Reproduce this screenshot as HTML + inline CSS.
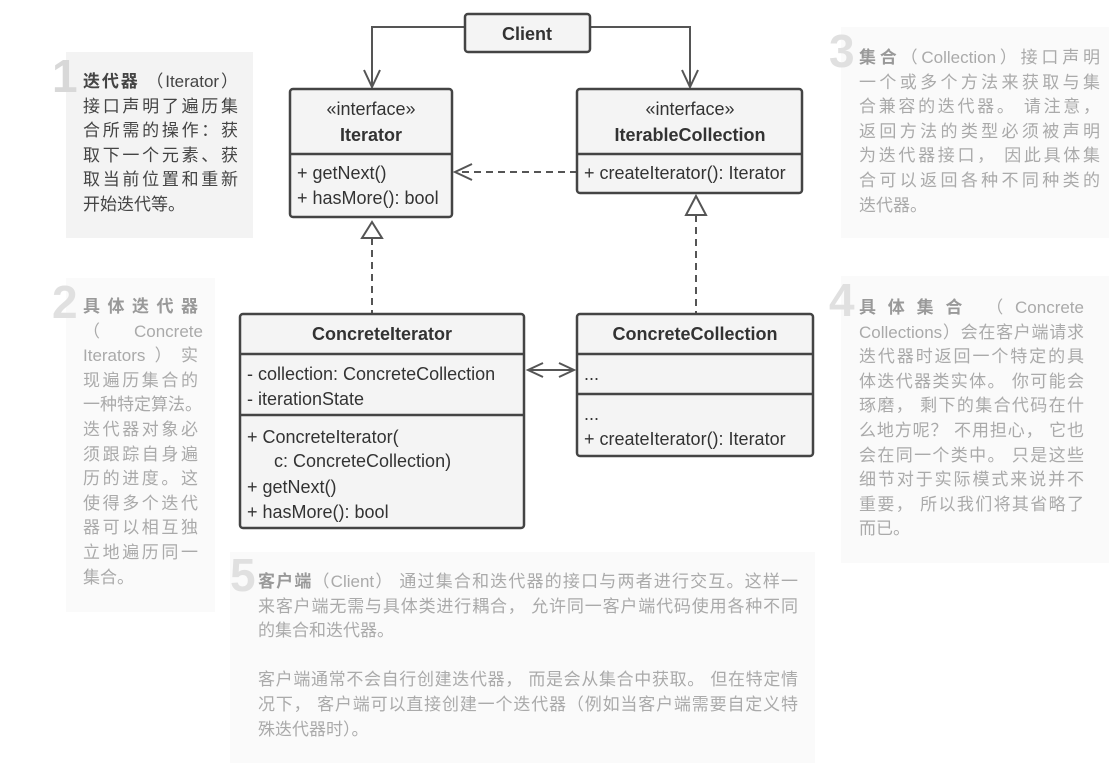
<!DOCTYPE html>
<html><head><meta charset="utf-8"><style>
body{margin:0;width:1109px;height:776px;background:#fff;position:relative;overflow:hidden;font-family:"Liberation Sans","Noto Sans CJK SC",sans-serif}
.bg{position:absolute}
.note{position:absolute;font-size:17px;line-height:24.6px;color:#aaa}
.note div{text-align:justify;text-align-last:justify;white-space:nowrap}
.note div.l{text-align-last:left}
.note b{color:#999}
.n1{color:#444}.n1 b{color:#444}
.num{position:absolute;font-size:46px;font-weight:bold;color:#e0e0e0;line-height:46px}
</style></head><body>
<div class="bg" style="left:66px;top:52px;width:187px;height:186px;background:#f3f3f3"></div>
<div class="bg" style="left:66px;top:278px;width:149px;height:334px;background:#fafafa"></div>
<div class="bg" style="left:841px;top:27px;width:268px;height:211px;background:#fafafa"></div>
<div class="bg" style="left:841px;top:276px;width:268px;height:287px;background:#fafafa"></div>
<div class="bg" style="left:230px;top:552px;width:585px;height:211px;background:#fafafa"></div>
<div class="num" style="left:52px;top:53px;color:#d8d8d8">1</div>
<div class="num" style="left:52px;top:279px">2</div>
<div class="num" style="left:829px;top:28px">3</div>
<div class="num" style="left:829px;top:277px">4</div>
<div class="num" style="left:230px;top:552px">5</div>

<div class="note n1" style="left:83px;top:70px;width:155px">
<div><b>迭代器</b> （Iterator）</div><div>接口声明了遍历集</div><div>合所需的操作：获</div><div>取下一个元素、获</div><div>取当前位置和重新</div><div class="l">开始迭代等。</div></div>

<div class="note" style="left:83px;top:295px;width:115px">
<div><b>具 体 迭 代 器</b></div><div>（　　Concrete</div><div>Iterators）实</div><div>现遍历集合的</div><div>一种特定算法。</div><div>迭代器对象必</div><div>须跟踪自身遍</div><div>历的进度。这</div><div>使得多个迭代</div><div>器可以相互独</div><div>立地遍历同一</div><div class="l">集合。</div></div>

<div class="note" style="left:859px;top:46px;width:241px">
<div><b>集合</b>（Collection）接口声明</div><div>一个或多个方法来获取与集</div><div>合兼容的迭代器。 请注意，</div><div>返回方法的类型必须被声明</div><div>为迭代器接口， 因此具体集</div><div>合可以返回各种不同种类的</div><div class="l">迭代器。</div></div>

<div class="note" style="left:859px;top:296px;width:225px">
<div><b>具 体 集 合</b> 　（ Concrete</div><div>Collections）会在客户端请求</div><div>迭代器时返回一个特定的具</div><div>体迭代器类实体。 你可能会</div><div>琢磨， 剩下的集合代码在什</div><div>么地方呢？ 不用担心， 它也</div><div>会在同一个类中。 只是这些</div><div>细节对于实际模式来说并不</div><div>重要， 所以我们将其省略了</div><div class="l">而已。</div></div>

<div class="note" style="left:258px;top:570px;width:540px">
<div><b>客户端</b>（Client） 通过集合和迭代器的接口与两者进行交互。这样一</div><div>来客户端无需与具体类进行耦合， 允许同一客户端代码使用各种不同</div><div class="l">的集合和迭代器。</div><div class="l">&nbsp;</div>
<div>客户端通常不会自行创建迭代器， 而是会从集合中获取。 但在特定情</div><div>况下， 客户端可以直接创建一个迭代器（例如当客户端需要自定义特</div><div class="l">殊迭代器时）。</div></div>

<svg width="1109" height="776" style="position:absolute;left:0;top:0" font-family="Liberation Sans, sans-serif" font-size="18" fill="#333">
<g stroke="#555" stroke-width="2" fill="none">
<polyline points="465,27 372,27 372,87"/><polyline points="364,70 372,87 380,70"/>
<polyline points="590,27 690,27 690,87"/><polyline points="682,70 690,87 698,70"/>
<line x1="577" y1="172" x2="456" y2="172" stroke-dasharray="7,5"/><polyline points="472,164 455,172 472,180"/>
<line x1="372" y1="238" x2="372" y2="314" stroke-dasharray="7,5"/><polygon points="372,222 362,238 382,238"/>
<line x1="696" y1="215" x2="696" y2="314" stroke-dasharray="7,5"/><polygon points="696,196 686,215 706,215"/>
<line x1="528" y1="370" x2="574" y2="370"/><polyline points="543,363 528,370 543,377"/><polyline points="559,363 574,370 559,377"/>
</g>
<g stroke="#444" stroke-width="2.5" fill="#f4f4f4">
<rect x="465" y="14" width="125" height="38" rx="3"/>
<rect x="290" y="89" width="162" height="128" rx="3"/>
<rect x="577" y="89" width="225" height="104" rx="3"/>
<rect x="240" y="314" width="284" height="214" rx="3"/>
<rect x="577" y="314" width="236" height="142" rx="3"/>
</g>
<g stroke="#444" stroke-width="2.5">
<line x1="290" y1="154" x2="452" y2="154"/>
<line x1="577" y1="154" x2="802" y2="154"/>
<line x1="240" y1="354" x2="524" y2="354"/>
<line x1="240" y1="415" x2="524" y2="415"/>
<line x1="577" y1="354" x2="813" y2="354"/>
<line x1="577" y1="394" x2="813" y2="394"/>
</g>
<g text-anchor="middle">
<text x="527" y="40" font-weight="bold">Client</text>
<text x="371" y="115">«interface»</text>
<text x="371" y="141" font-weight="bold">Iterator</text>
<text x="690" y="115">«interface»</text>
<text x="690" y="141" font-weight="bold">IterableCollection</text>
<text x="382" y="340" font-weight="bold">ConcreteIterator</text>
<text x="695" y="340" font-weight="bold">ConcreteCollection</text>
</g>
<text x="297" y="179">+ getNext()</text>
<text x="297" y="204">+ hasMore(): bool</text>
<text x="584" y="179">+ createIterator(): Iterator</text>
<text x="247" y="380">- collection: ConcreteCollection</text>
<text x="247" y="405">- iterationState</text>
<text x="247" y="443">+ ConcreteIterator(</text>
<text x="274" y="467">c: ConcreteCollection)</text>
<text x="247" y="493">+ getNext()</text>
<text x="247" y="518">+ hasMore(): bool</text>
<text x="584" y="380">...</text>
<text x="584" y="420">...</text>
<text x="584" y="445">+ createIterator(): Iterator</text>
</svg>
</body></html>
